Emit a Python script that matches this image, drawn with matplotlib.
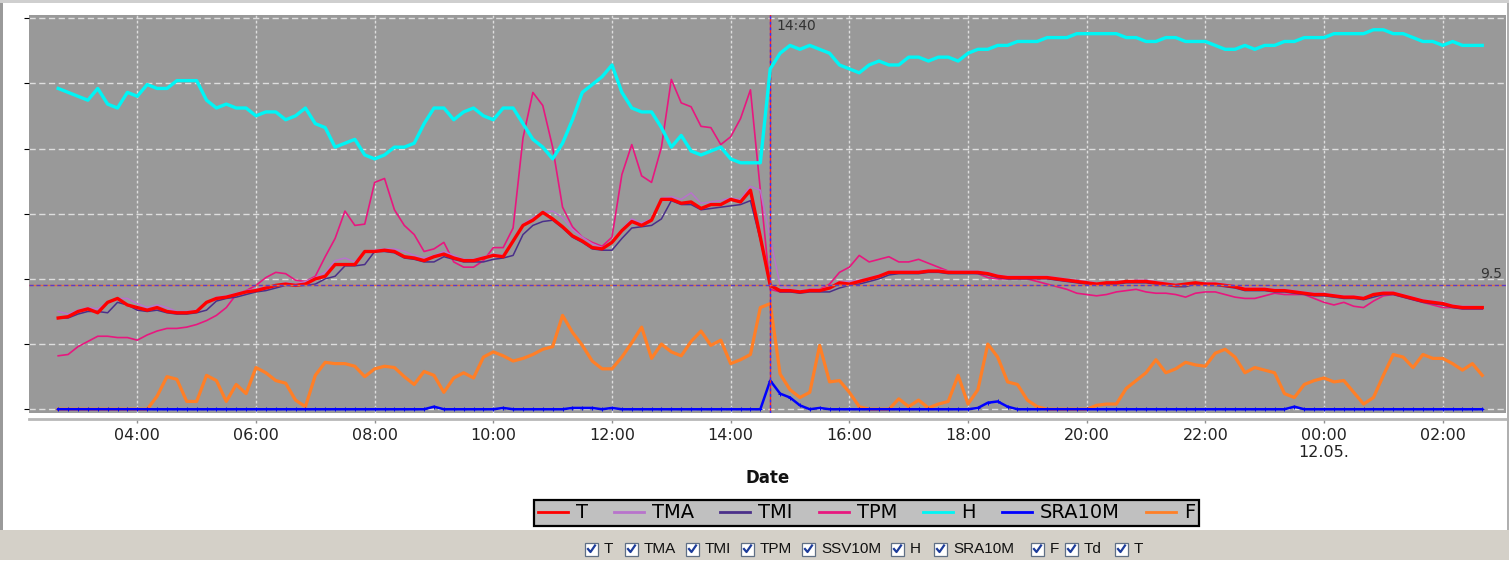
import pandas as pd
import matplotlib
matplotlib.use("Agg")
import matplotlib.pyplot as plt
import matplotlib.dates as mdates
import matplotlib.transforms as mtransforms
from matplotlib.lines import Line2D
from matplotlib.patches import Rectangle

# 10-minute readings, 11.05. 02:40 -> 12.05. 02:40
times = pd.date_range("2023-05-11 02:40", periods=145, freq="10min")
cursor_time = pd.Timestamp("2023-05-11 14:40")
cursor_value = 9.5

T = [7.0, 7.1, 7.5, 7.7, 7.4, 8.2, 8.5, 8.0, 7.8, 7.6,
     7.8, 7.5, 7.4, 7.4, 7.5, 8.2, 8.5, 8.6, 8.8, 9.0,
     9.1, 9.3, 9.5, 9.6, 9.5, 9.6, 10.0, 10.2, 11.1, 11.1,
     11.1, 12.1, 12.1, 12.2, 12.1, 11.7, 11.6, 11.4, 11.7, 11.9,
     11.6, 11.4, 11.4, 11.6, 11.8, 11.7, 12.9, 14.1, 14.5, 15.1,
     14.6, 14.0, 13.3, 12.9, 12.4, 12.3, 12.8, 13.7, 14.4, 14.1,
     14.5, 16.1, 16.1, 15.8, 15.9, 15.4, 15.7, 15.7, 16.1, 15.9,
     16.8, 13.2, 9.5, 9.1, 9.1, 9.0, 9.1, 9.1, 9.3, 9.7,
     9.6, 9.8, 10.0, 10.2, 10.5, 10.5, 10.5, 10.5, 10.6, 10.6,
     10.5, 10.5, 10.5, 10.5, 10.4, 10.2, 10.1, 10.1, 10.1, 10.1,
     10.1, 10.0, 9.9, 9.8, 9.7, 9.6, 9.7, 9.7, 9.8, 9.8,
     9.8, 9.7, 9.6, 9.5, 9.6, 9.7, 9.6, 9.6, 9.5, 9.4,
     9.2, 9.2, 9.2, 9.1, 9.1, 9.0, 8.9, 8.8, 8.8, 8.7,
     8.6, 8.6, 8.5, 8.8, 8.9, 8.9, 8.7, 8.5, 8.3, 8.2,
     8.1, 7.9, 7.8, 7.8, 7.8]

TMA = [7.5, 7.3, 7.6, 7.8, 7.7, 8.2, 8.5, 8.5, 8.1, 7.8,
       8.0, 7.8, 7.5, 7.5, 7.6, 8.2, 8.6, 8.7, 8.9, 9.1,
       9.2, 9.4, 9.5, 9.7, 9.6, 9.8, 10.1, 10.5, 11.4, 11.6,
       11.3, 12.1, 12.2, 12.3, 12.3, 12.1, 11.8, 11.6, 11.8, 12.1,
       11.8, 11.5, 11.5, 11.7, 11.9, 11.8, 13.0, 14.2, 14.7, 15.1,
       15.2, 14.7, 13.8, 13.2, 12.7, 12.4, 12.8, 13.8, 14.6, 14.3,
       14.6, 16.2, 16.3, 16.1, 16.6, 15.8, 15.9, 16.0, 16.2, 16.1,
       17.1, 16.8, 13.1, 9.5, 9.2, 9.1, 9.2, 9.2, 9.4, 9.8,
       9.8, 9.9, 10.1, 10.3, 10.5, 10.6, 10.6, 10.6, 10.7, 10.7,
       10.6, 10.6, 10.6, 10.6, 10.5, 10.3, 10.2, 10.2, 10.2, 10.2,
       10.2, 10.1, 10.0, 9.9, 9.8, 9.7, 9.7, 9.8, 9.8, 9.9,
       9.9, 9.8, 9.7, 9.6, 9.6, 9.7, 9.7, 9.7, 9.6, 9.5,
       9.3, 9.3, 9.3, 9.2, 9.2, 9.1, 9.0, 8.9, 8.9, 8.8,
       8.7, 8.7, 8.6, 8.8, 9.0, 9.0, 8.8, 8.6, 8.4, 8.3,
       8.2, 8.0, 7.9, 7.9, 7.8]

TMI = [7.0, 7.0, 7.3, 7.5, 7.5, 7.4, 8.2, 8.0, 7.6, 7.5,
       7.6, 7.4, 7.3, 7.3, 7.4, 7.6, 8.3, 8.5, 8.6, 8.8,
       9.0, 9.1, 9.3, 9.5, 9.5, 9.5, 9.6, 10.0, 10.2, 11.0,
       11.0, 11.1, 12.1, 12.1, 12.0, 11.6, 11.5, 11.3, 11.3, 11.7,
       11.5, 11.3, 11.3, 11.3, 11.5, 11.6, 11.8, 13.4, 14.1, 14.4,
       14.5, 13.9, 13.2, 12.8, 12.3, 12.2, 12.2, 13.1, 13.9, 14.0,
       14.1, 14.6, 16.0, 15.7, 15.7, 15.3, 15.4, 15.5, 15.6, 15.7,
       16.0, 13.0, 9.5, 9.0, 9.0, 8.9, 9.0, 9.0, 9.0, 9.3,
       9.5, 9.6, 9.8, 10.0, 10.3, 10.4, 10.4, 10.4, 10.5, 10.5,
       10.4, 10.4, 10.4, 10.4, 10.3, 10.1, 10.0, 10.0, 10.0, 10.0,
       10.0, 9.9, 9.8, 9.7, 9.6, 9.5, 9.6, 9.6, 9.7, 9.7,
       9.7, 9.6, 9.5, 9.4, 9.4, 9.6, 9.5, 9.5, 9.4, 9.3,
       9.1, 9.1, 9.1, 9.0, 9.0, 8.9, 8.8, 8.7, 8.7, 8.6,
       8.5, 8.5, 8.4, 8.6, 8.8, 8.8, 8.6, 8.4, 8.2, 8.1,
       8.0, 7.8, 7.7, 7.7, 7.7]

TPM = [4.1, 4.2, 4.8, 5.2, 5.6, 5.6, 5.5, 5.5, 5.3, 5.7,
       6.0, 6.2, 6.2, 6.3, 6.5, 6.8, 7.2, 7.8, 8.8, 9.1,
       9.5, 10.1, 10.5, 10.4, 9.9, 9.8, 10.2, 11.7, 13.1, 15.2,
       14.1, 14.2, 17.4, 17.7, 15.3, 14.1, 13.4, 12.1, 12.3, 12.8,
       11.3, 10.9, 10.9, 11.4, 12.4, 12.4, 13.9, 20.8, 24.3, 23.3,
       20.1, 15.5, 14.0, 13.2, 12.8, 12.5, 13.2, 18.0, 20.3, 17.9,
       17.4, 20.1, 25.3, 23.5, 23.2, 21.7, 21.6, 20.3, 20.9, 22.3,
       24.5, 16.8, 9.2, 9.0, 9.0, 9.0, 9.2, 9.2, 9.6, 10.5,
       10.9, 11.8, 11.3, 11.5, 11.7, 11.3, 11.3, 11.5, 11.2, 10.9,
       10.6, 10.5, 10.5, 10.4, 10.1, 10.0, 10.0, 10.0, 10.0, 9.8,
       9.6, 9.4, 9.2, 8.9, 8.8, 8.7, 8.8, 9.0, 9.1, 9.2,
       9.0, 8.9, 8.9, 8.8, 8.6, 8.9, 9.0, 9.0, 8.8, 8.6,
       8.5, 8.5, 8.7, 8.9, 8.8, 8.8, 8.8, 8.5, 8.2, 8.0,
       8.2, 7.9, 7.8, 8.3, 8.7, 8.8, 8.6, 8.4, 8.2, 8.0,
       7.8, 7.8, 7.7, 7.7, 7.7]

# relative humidity, %
H = [82, 81, 80, 79, 82, 78, 77, 81, 80, 83,
     82, 82, 84, 84, 84, 79, 77, 78, 77, 77,
     75, 76, 76, 74, 75, 77, 73, 72, 67, 68,
     69, 65, 64, 65, 67, 67, 68, 73, 77, 77,
     74, 76, 77, 75, 74, 77, 77, 73, 69, 67,
     64, 68, 74, 81, 83, 85, 88, 81, 77, 76,
     76, 72, 67, 70, 66, 65, 66, 67, 64, 63,
     63, 63, 87, 91, 93, 92, 93, 92, 91, 88,
     87, 86, 88, 89, 88, 88, 90, 90, 89, 90,
     90, 89, 91, 92, 92, 93, 93, 94, 94, 94,
     95, 95, 95, 96, 96, 96, 96, 96, 95, 95,
     94, 94, 95, 95, 94, 94, 94, 93, 92, 92,
     93, 92, 93, 93, 94, 94, 95, 95, 95, 96,
     96, 96, 96, 97, 97, 96, 96, 95, 94, 94,
     93, 94, 93, 93, 93]

SRA10M = [0, 0, 0, 0, 0, 0, 0, 0, 0, 0,
          0, 0, 0, 0, 0, 0, 0, 0, 0, 0,
          0, 0, 0, 0, 0, 0, 0, 0, 0, 0,
          0, 0, 0, 0, 0, 0, 0, 0, 0.2, 0,
          0, 0, 0, 0, 0, 0.1, 0, 0, 0, 0,
          0, 0, 0.1, 0.1, 0.1, 0, 0.1, 0, 0, 0,
          0, 0, 0, 0, 0, 0, 0, 0, 0, 0,
          0, 0, 2.2, 1.2, 0.9, 0.3, 0, 0.1, 0, 0,
          0, 0, 0, 0, 0, 0, 0, 0, 0, 0,
          0, 0, 0, 0.1, 0.5, 0.6, 0.2, 0, 0, 0,
          0, 0, 0, 0, 0, 0, 0, 0, 0, 0,
          0, 0, 0, 0, 0, 0, 0, 0, 0, 0,
          0, 0, 0, 0, 0, 0.2, 0, 0, 0, 0,
          0, 0, 0, 0, 0, 0, 0, 0, 0, 0,
          0, 0, 0, 0, 0]

F = [0, 0, 0, 0, 0, 0, 0, 0, 0, 0,
     1.0, 2.5, 2.3, 0.6, 0.6, 2.6, 2.2, 0.6, 1.9, 1.2,
     3.2, 2.8, 2.2, 2.0, 0.7, 0.2, 2.6, 3.6, 3.5, 3.5,
     3.3, 2.5, 3.1, 3.3, 3.2, 2.5, 1.9, 2.9, 2.6, 1.3,
     2.4, 2.8, 2.4, 4.0, 4.4, 4.1, 3.7, 3.9, 4.2, 4.6,
     4.8, 7.2, 5.9, 4.9, 3.7, 3.1, 3.1, 4.0, 5.1, 6.3,
     3.9, 5.0, 4.4, 4.1, 5.2, 6.0, 4.9, 5.3, 3.5, 3.8,
     4.2, 7.8, 8.1, 2.7, 1.5, 0.9, 1.3, 4.9, 2.1, 2.2,
     1.3, 0.2, 0, 0, 0, 0.8, 0.2, 0.7, 0.1, 0.4,
     0.6, 2.6, 0.4, 1.5, 5.0, 4.0, 2.1, 1.9, 0.7, 0.2,
     0, 0, 0, 0, 0, 0.3, 0.4, 0.4, 1.6, 2.2,
     2.8, 3.8, 2.8, 3.1, 3.6, 3.4, 3.3, 4.3, 4.6, 4.0,
     2.8, 3.2, 3.0, 2.8, 1.2, 0.9, 1.9, 2.2, 2.4, 2.1,
     2.2, 1.3, 0.4, 0.9, 2.6, 4.2, 4.0, 3.2, 4.2, 3.9,
     3.9, 3.5, 3.0, 3.5, 2.6]

series_names = ["T", "TMA", "TMI", "TPM", "H", "SRA10M", "F"]
series_colors = {"T": "#ff0000", "TMA": "#b873cc", "TMI": "#4a2f8a",
                 "TPM": "#e8177f", "H": "#00f5f5", "SRA10M": "#0000ff",
                 "F": "#ff7f27"}
checkbox_labels = ["T", "TMA", "TMI", "TPM", "SSV10M", "H", "SRA10M", "F", "Td", "T"]

# ---- layout (pixels of a 1509x563 canvas) ----
W, HGT = 1509, 563
fig = plt.figure(figsize=(W / 100, HGT / 100), dpi=100)
fig.patch.set_facecolor("white")


def fx(px):
    return px / W


def fy(py):
    return 1 - py / HGT


plot_l, plot_r, plot_t, plot_b = 29.3, 1506, 15, 413.3
ax = fig.add_axes([fx(plot_l), fy(plot_b), fx(plot_r) - fx(plot_l), fy(plot_t) - fy(plot_b)])
ax.set_facecolor("#999999")

ax.plot(times, F, color=series_colors["F"], lw=2.3, zorder=2)
ax.plot(times, SRA10M, color=series_colors["SRA10M"], lw=1.8, marker="+",
        ms=3.5, mew=0.7, zorder=3)
ax.plot(times, TPM, color=series_colors["TPM"], lw=1.2, zorder=4)
ax.plot(times, TMI, color=series_colors["TMI"], lw=1.1, zorder=5)
ax.plot(times, TMA, color=series_colors["TMA"], lw=1.1, zorder=5)
ax.plot(times, T, color=series_colors["T"], lw=2.4, zorder=6)

# crosshair at the selected reading
ax.axvline(cursor_time, color="#ff2020", lw=1, zorder=7)
ax.axvline(cursor_time, color="#3030ff", lw=1, ls=(0, (2, 2)), zorder=7)
ax.axhline(cursor_value, color="#e07040", lw=1, zorder=7)
ax.axhline(cursor_value, color="#5a3cc8", lw=1, ls=(0, (3, 2)), zorder=7)

ax.set_ylim(-0.31, 30.24)
ax.set_yticks(range(0, 31, 5))
ax.tick_params(axis="y", left=False, labelleft=False)
ax.set_xlim(pd.Timestamp("2023-05-11 02:10:48"), pd.Timestamp("2023-05-12 03:04"))
ax.xaxis.set_major_locator(mdates.HourLocator(byhour=range(0, 24, 2)))


def time_label(x, pos):
    d = mdates.num2date(x)
    s = d.strftime("%H:%M")
    if d.hour == 0 and d.minute == 0:
        s += "\n" + d.strftime("%d.%m.")
    return s


ax.xaxis.set_major_formatter(plt.FuncFormatter(time_label))
ax.grid(axis="y", color="#dedede", lw=1, ls=(0, (4.5, 2.5)))
ax.grid(axis="x", color="#dedede", lw=1, ls=(0, (2, 1.6)))
ax.set_axisbelow(True)
for side in ["top", "left", "right"]:
    ax.spines[side].set_visible(False)
ax.spines["bottom"].set_position(("outward", 4.3))
ax.spines["bottom"].set_color("#b8b8b8")
ax.spines["bottom"].set_linewidth(2)
ax.tick_params(axis="x", length=3, width=1, color="#909090", pad=3,
               labelsize=11.5, labelcolor="#222222")

# humidity on its own (hidden) scale
ax_h = ax.twinx()
ax_h.plot(times, H, color=series_colors["H"], lw=2.4)
ax_h.set_ylim(-1.02, 100.77)
ax_h.tick_params(right=False, labelright=False)
for sp in ax_h.spines.values():
    sp.set_visible(False)

trans_vx = mtransforms.blended_transform_factory(ax.transData, ax.transAxes)
ax.annotate("14:40", xy=(mdates.date2num(cursor_time), 0.972), xycoords=trans_vx,
            xytext=(4.5, 0), textcoords="offset points", ha="left", va="center",
            fontsize=10, color="#333333")
trans_hy = mtransforms.blended_transform_factory(ax.transAxes, ax.transData)
ax.annotate("9.5", xy=(1, cursor_value), xycoords=trans_hy, xytext=(-3, 8.5),
            textcoords="offset points", ha="right", va="center",
            fontsize=10, color="#333333")

fig.text(fx(768), fy(478), "Date", ha="center", va="center",
         fontsize=12, fontweight="bold", color="#111111")

handles = [Line2D([], [], color=series_colors[n], lw=2) for n in series_names]
leg = fig.legend(handles, series_names, loc="center",
                 bbox_to_anchor=(fx(866.5), fy(513)), ncol=7, frameon=True,
                 fancybox=False, edgecolor="black", facecolor="#c0c0c0",
                 framealpha=1, fontsize=14, handlelength=1.55, handletextpad=0.4,
                 columnspacing=1.35, borderpad=0.2, borderaxespad=0)
leg.get_frame().set_linewidth(1.6)

# window frame and the series selector strip
fig.add_artist(Rectangle((0, fy(3)), 1, fy(0) - fy(3), transform=fig.transFigure,
                         facecolor="#cfcfcf", edgecolor="none"))
fig.add_artist(Rectangle((0, fy(529.5)), fx(2.5), fy(3) - fy(529.5),
                         transform=fig.transFigure, facecolor="#9a9a9a", edgecolor="none"))
fig.add_artist(Rectangle((fx(1507), fy(529.5)), fx(2), fy(3) - fy(529.5),
                         transform=fig.transFigure, facecolor="#b0b0b0", edgecolor="none"))
fig.add_artist(Rectangle((0, fy(560)), 1, fy(529.5) - fy(560), transform=fig.transFigure,
                         facecolor="#d4d0c8", edgecolor="none"))

box_lefts = [585, 625, 686, 741, 802, 891, 934, 1031, 1065, 1115]
box_size, box_top = 13, 542.5
for lbl, bx in zip(checkbox_labels, box_lefts):
    fig.add_artist(Rectangle((fx(bx), fy(box_top + box_size)), fx(box_size),
                             fy(box_top) - fy(box_top + box_size),
                             transform=fig.transFigure, facecolor="white",
                             edgecolor="#5f6f85", lw=0.9))
    fig.add_artist(Line2D([fx(bx + 3), fx(bx + 5.5), fx(bx + 10)],
                          [fy(box_top + 6.5), fy(box_top + 9.5), fy(box_top + 3)],
                          transform=fig.transFigure, color="#1d3c9a", lw=1.6))
    fig.text(fx(bx + box_size + 6), fy(box_top + box_size / 2), lbl,
             ha="left", va="center", fontsize=11, family="Liberation Sans",
             color="#111111")

fig.savefig("out.png", dpi=100)
